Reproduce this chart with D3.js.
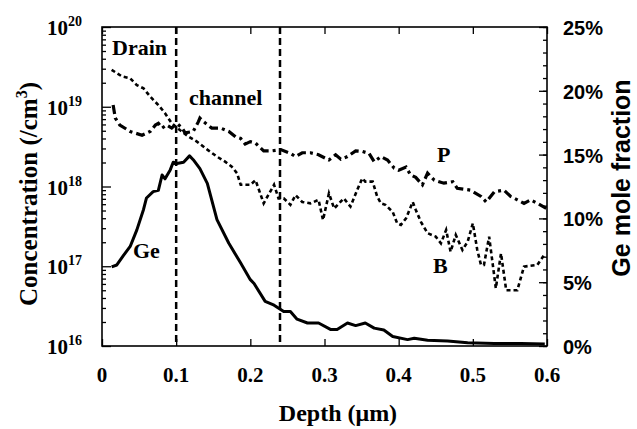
<!DOCTYPE html>
<html lang="en">
<head>
    <meta charset="UTF-8"/>
    <title>Depth profile</title>
    <script src="https://d3js.org/d3.v7.min.js"></script>
    <style>
        body { margin: 0; background: white; }
        .serif { font-family: "Liberation Serif", "Times New Roman", serif; font-weight: bold; }
        .sans { font-family: "Liberation Sans", Arial, sans-serif; font-weight: bold; }
    </style>
</head>
<body>
<script>
    // Ge mole fraction (%) vs depth (um)
    var geDepth = [0.013,0.020,0.029,0.038,0.047,0.056,0.060,0.069,0.076,0.081,0.085,0.092,0.096,0.101,0.110,0.118,0.123,0.132,0.142,0.155,0.171,0.187,0.200,0.205,0.220,0.232,0.245,0.254,0.263,0.277,0.292,0.308,0.317,0.331,0.342,0.355,0.367,0.380,0.392,0.412,0.421,0.439,0.466,0.493,0.529,0.565,0.597];
    var gePct = [6.2,6.35,7.1,7.8,9.1,10.7,11.6,12.1,12.2,13.4,13.1,13.8,14.4,14.3,14.4,14.9,14.6,13.9,12.75,9.9,8.05,6.5,5.2,4.9,3.5,3.2,2.7,2.7,2.1,1.8,1.8,1.3,1.3,1.8,1.6,1.8,1.4,1.25,0.75,0.5,0.6,0.45,0.4,0.25,0.2,0.2,0.15];

    // P concentration (/cm3)
    var pDepth = [0.015,0.018,0.024,0.038,0.054,0.065,0.072,0.076,0.081,0.087,0.094,0.101,0.108,0.112,0.123,0.130,0.132,0.137,0.148,0.160,0.171,0.180,0.187,0.193,0.200,0.207,0.218,0.229,0.241,0.254,0.261,0.270,0.281,0.292,0.306,0.315,0.322,0.331,0.342,0.351,0.360,0.367,0.376,0.385,0.394,0.400,0.410,0.416,0.423,0.432,0.439,0.448,0.461,0.473,0.479,0.497,0.511,0.518,0.529,0.542,0.551,0.560,0.569,0.578,0.587,0.599];
    var pConc = [1.05e19,7.2e18,5.9e18,4.9e18,4.4e18,4.9e18,5.9e18,6.2e18,5.4e18,5.9e18,5.4e18,6.2e18,5.4e18,4.7e18,4.9e18,6.5e18,7.2e18,6.5e18,5.4e18,5.4e18,4.9e18,4.2e18,4.0e18,3.4e18,3.65e18,3.5e18,2.8e18,2.8e18,2.9e18,2.6e18,2.37e18,2.65e18,2.65e18,2.5e18,2.15e18,2.5e18,2.2e18,2.37e18,2.8e18,2.75e18,2.6e18,2.05e18,2.37e18,2.15e18,1.7e18,1.6e18,1.75e18,1.4e18,1.3e18,1.05e18,1.47e18,1.2e18,1.1e18,1.15e18,9.5e17,9.0e17,7.5e17,6.4e17,8.6e17,9.0e17,7.5e17,6.8e17,6.15e17,6.8e17,6.15e17,5.3e17];

    // B concentration (/cm3)
    var bDepth = [0.013,0.027,0.038,0.047,0.056,0.065,0.076,0.085,0.094,0.105,0.117,0.128,0.142,0.155,0.166,0.175,0.182,0.187,0.196,0.200,0.207,0.218,0.232,0.238,0.245,0.254,0.261,0.270,0.281,0.292,0.298,0.306,0.313,0.326,0.335,0.344,0.351,0.355,0.365,0.371,0.376,0.382,0.392,0.398,0.403,0.410,0.419,0.423,0.430,0.439,0.450,0.457,0.464,0.470,0.477,0.486,0.493,0.500,0.506,0.511,0.515,0.522,0.531,0.538,0.545,0.560,0.569,0.587,0.596];
    var bConc = [2.9e19,2.4e19,2.27e19,1.87e19,1.7e19,1.34e19,1.05e19,8.3e18,6.2e18,5.1e18,4.2e18,3.65e18,2.9e18,2.37e18,2.05e18,1.77e18,1.47e18,1.05e18,1.05e18,1.05e18,1.2e18,6.15e17,1.05e18,7.1e17,7.1e17,5.9e17,7.8e17,6.4e17,6.15e17,6.8e17,3.8e17,8.2e17,5.3e17,7.1e17,5.6e17,9.0e17,1.27e18,1.15e18,1.15e18,7.5e17,6.15e17,5.9e17,4.8e17,3.45e17,3.3e17,4.0e17,6.4e17,5.1e17,3.6e17,2.6e17,2.35e17,1.94e17,2.85e17,1.52e17,2.47e17,1.6e17,2.03e17,3.45e17,1.6e17,1.04e17,1.04e17,2.35e17,5.3e16,1.45e17,5.0e16,5.0e16,9.9e16,1.04e17,1.38e17];

    var xTicks = [0, 0.1, 0.2, 0.3, 0.4, 0.5, 0.6];
    var xTickLabels = ["0", "0.1", "0.2", "0.3", "0.4", "0.5", "0.6"];
    var decades = [16, 17, 18, 19, 20];
    var pctTicks = [0, 5, 10, 15, 20, 25];
    var regionEdges = [0.1, 0.24];

    var w = 637;
    var h = 429;
    // note: "top" is reserved on window, so plot edges get their own names
    var plotL = 102, plotR = 547, plotT = 27, plotB = 346;

    var xScale = d3.scaleLinear().domain([0, 0.6]).range([plotL, plotR]);
    var yScale = d3.scaleLog().domain([1e16, 1e20]).range([plotB, plotT]);
    var pctScale = d3.scaleLinear().domain([0, 25]).range([plotB, plotT]);

    var svg = d3.select("body")
                .append("svg")
                .attr("width", w)
                .attr("height", h);

    // minor log ticks
    var minorTicks = [];
    for (var e = 16; e < 20; e++) {
        for (var m = 2; m <= 9; m++) minorTicks.push(m * Math.pow(10, e));
    }
    var majorTicks = decades.map(function(d) { return Math.pow(10, d); });

    function styleAxis(g) {
        g.select(".domain").remove();
        g.selectAll("line").attr("stroke", "black").attr("stroke-width", 1.3);
    }

    svg.append("g")
       .attr("transform", "translate(" + plotL + ",0)")
       .call(d3.axisLeft(yScale).tickValues(minorTicks).tickSize(-4).tickFormat(""))
       .call(styleAxis);
    svg.append("g")
       .attr("transform", "translate(" + plotL + ",0)")
       .call(d3.axisLeft(yScale).tickValues(majorTicks).tickSize(-9).tickFormat(""))
       .call(styleAxis);

    // right axis ticks (1% minor, 5% major)
    svg.append("g")
       .attr("transform", "translate(" + plotR + ",0)")
       .call(d3.axisRight(pctScale).tickValues(d3.range(0, 26, 1)).tickSize(-4).tickFormat(""))
       .call(styleAxis);
    svg.append("g")
       .attr("transform", "translate(" + plotR + ",0)")
       .call(d3.axisRight(pctScale).tickValues(pctTicks).tickSize(-8).tickFormat(""))
       .call(styleAxis);

    svg.append("g")
       .attr("transform", "translate(0," + plotB + ")")
       .call(d3.axisBottom(xScale).tickValues(xTicks).tickSize(-7).tickFormat(""))
       .call(styleAxis);
    svg.append("g")
       .attr("transform", "translate(0," + plotT + ")")
       .call(d3.axisTop(xScale).tickValues(xTicks).tickSize(-7).tickFormat(""))
       .call(styleAxis);

    // frame
    svg.append("rect")
       .attr("x", plotL)
       .attr("y", plotT)
       .attr("width", plotR - plotL)
       .attr("height", plotB - plotT)
       .attr("fill", "none")
       .attr("stroke", "black")
       .attr("stroke-width", 1.6);

    // tick labels
    var decLabels = svg.selectAll("text.dec")
        .data(decades)
        .enter()
        .append("text")
        .attr("class", "dec serif")
        .attr("x", 47)
        .attr("y", function(d) { return yScale(Math.pow(10, d)) + 8; })
        .attr("font-size", "21px");
    decLabels.append("tspan").text("10");
    decLabels.append("tspan")
        .attr("dy", -9)
        .attr("font-size", "14px")
        .text(function(d) { return d; });

    svg.selectAll("text.xl")
       .data(xTicks)
       .enter()
       .append("text")
       .attr("class", "xl serif")
       .attr("text-anchor", "middle")
       .attr("x", function(d) { return xScale(d); })
       .attr("y", 382)
       .attr("font-size", "21px")
       .text(function(d, i) { return xTickLabels[i]; });

    svg.selectAll("text.pl")
       .data(pctTicks)
       .enter()
       .append("text")
       .attr("class", "pl sans")
       .attr("x", 563)
       .attr("y", function(d) { return pctScale(d) + 8; })
       .attr("font-size", "20px")
       .text(function(d) { return d + "%"; });

    // axis titles
    var yTitle = svg.append("text")
       .attr("class", "serif")
       .attr("text-anchor", "middle")
       .attr("transform", "rotate(-90)")
       .attr("x", -194)
       .attr("y", 37)
       .attr("font-size", "25px");
    yTitle.append("tspan").text("Concentration (/cm");
    yTitle.append("tspan").attr("dy", -10).attr("font-size", "16px").text("3");
    yTitle.append("tspan").attr("dy", 10).text(")");

    svg.append("text")
       .attr("class", "sans")
       .attr("text-anchor", "middle")
       .attr("transform", "rotate(-90)")
       .attr("x", -178)
       .attr("y", 630)
       .attr("font-size", "25px")
       .text("Ge mole fraction");

    svg.append("text")
       .attr("class", "serif")
       .attr("text-anchor", "middle")
       .attr("x", 338)
       .attr("y", 421)
       .attr("font-size", "24px")
       .text("Depth (\u03bcm)");

    // region boundaries
    svg.selectAll("line.edge")
       .data(regionEdges)
       .enter()
       .append("line")
       .attr("class", "edge")
       .attr("x1", function(d) { return xScale(d); })
       .attr("x2", function(d) { return xScale(d); })
       .attr("y1", plotT)
       .attr("y2", plotB)
       .attr("stroke", "black")
       .attr("stroke-width", 2.5)
       .attr("stroke-dasharray", "7,4");

    // curves
    var concLine = d3.line()
        .x(function(d) { return xScale(d[0]); })
        .y(function(d) { return yScale(d[1]); });
    var pctLine = d3.line()
        .x(function(d) { return xScale(d[0]); })
        .y(function(d) { return pctScale(d[1]); });

    svg.append("path")
       .datum(d3.zip(bDepth, bConc))
       .attr("d", concLine)
       .attr("fill", "none")
       .attr("stroke", "black")
       .attr("stroke-width", 2.6)
       .attr("stroke-dasharray", "4,3");

    svg.append("path")
       .datum(d3.zip(pDepth, pConc))
       .attr("d", concLine)
       .attr("fill", "none")
       .attr("stroke", "black")
       .attr("stroke-width", 3.2)
       .attr("stroke-dasharray", "9,4,3,4");

    svg.append("path")
       .datum(d3.zip(geDepth, gePct))
       .attr("d", pctLine)
       .attr("fill", "none")
       .attr("stroke", "black")
       .attr("stroke-width", 3)
       .attr("stroke-linejoin", "round");

    // annotations
    var notes = [
        { t: "Drain", x: 112, y: 55 },
        { t: "channel", x: 189, y: 105 },
        { t: "P", x: 437, y: 162 },
        { t: "B", x: 433, y: 273 },
        { t: "Ge", x: 133, y: 258 }
    ];
    svg.selectAll("text.note")
       .data(notes)
       .enter()
       .append("text")
       .attr("class", "note serif")
       .attr("x", function(d) { return d.x; })
       .attr("y", function(d) { return d.y; })
       .attr("font-size", "22px")
       .text(function(d) { return d.t; });
</script>
</body>
</html>
